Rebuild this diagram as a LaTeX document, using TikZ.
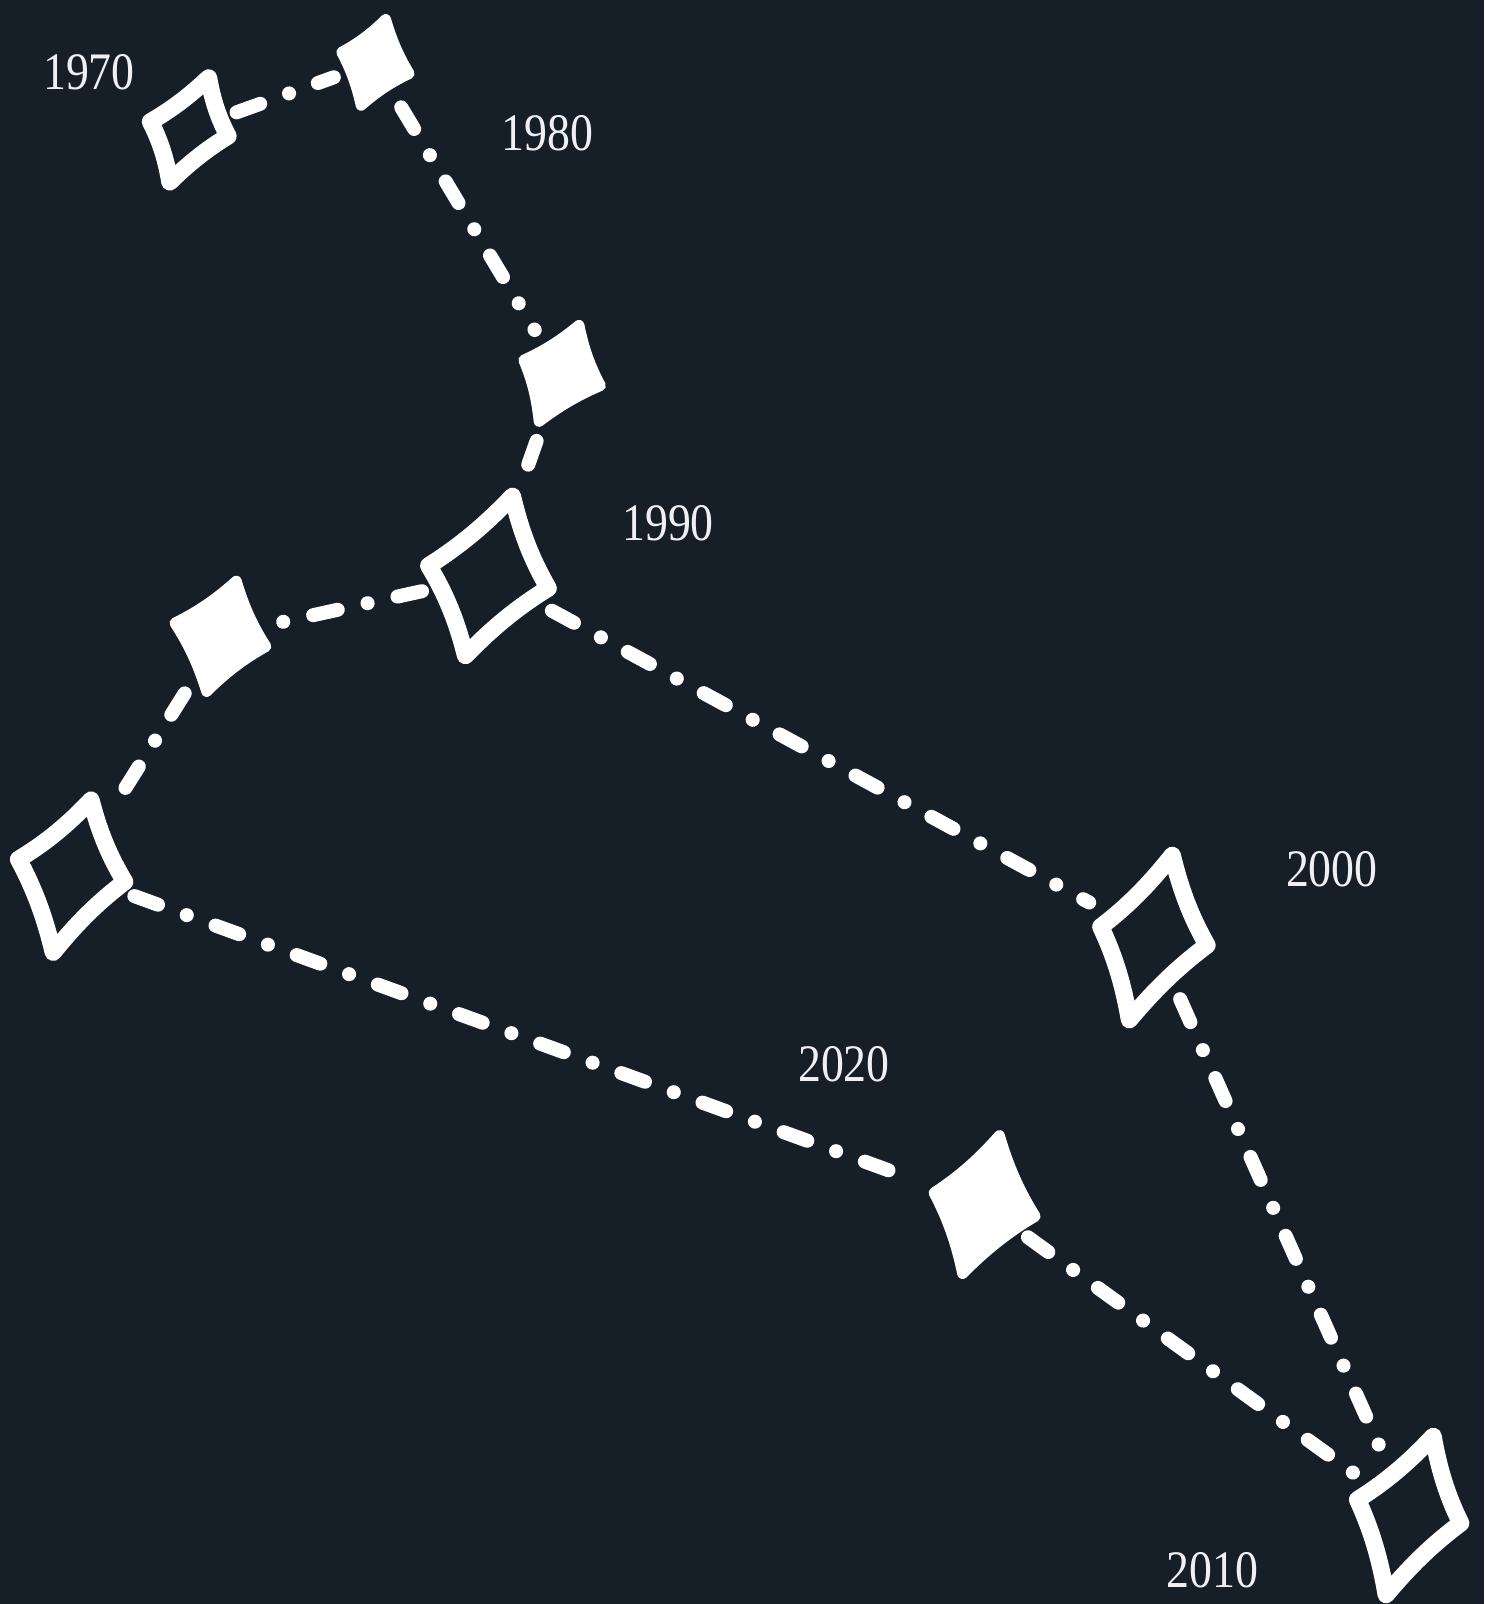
\documentclass[tikz,border=0pt]{standalone}
\usepackage{fontspec}
\setmainfont{Liberation Serif}
\usetikzlibrary{calc}
\definecolor{bg}{RGB}{22,31,40}
\definecolor{ink}{RGB}{255,255,255}
\definecolor{txt}{RGB}{240,240,244}
\newcommand\spark[6]{%
  \coordinate (#1-t) at (#2);
  \coordinate (#1-r) at (#3);
  \coordinate (#1-b) at (#4);
  \coordinate (#1-l) at (#5);
  \coordinate (#1) at ($0.25*(#1-t)+0.25*(#1-r)+0.25*(#1-b)+0.25*(#1-l)$);
  \path[#6] (#1-t)
    .. controls ($0.6*(#1-t)+0.3*(#1-r)+0.1*(#1)$) and ($0.3*(#1-t)+0.6*(#1-r)+0.1*(#1)$) .. (#1-r)
    .. controls ($0.6*(#1-r)+0.3*(#1-b)+0.1*(#1)$) and ($0.3*(#1-r)+0.6*(#1-b)+0.1*(#1)$) .. (#1-b)
    .. controls ($0.6*(#1-b)+0.3*(#1-l)+0.1*(#1)$) and ($0.3*(#1-b)+0.6*(#1-l)+0.1*(#1)$) .. (#1-l)
    .. controls ($0.6*(#1-l)+0.3*(#1-t)+0.1*(#1)$) and ($0.3*(#1-l)+0.6*(#1-t)+0.1*(#1)$) .. (#1-t) -- cycle;
}
\tikzset{
  outl/.style={draw=ink, line width=9.5pt, line join=round},
  solidsp/.style={fill=ink, draw=ink, line width=6pt, line join=round},
  link/.style={draw=ink, line width=7.8pt, line cap=round,
    dash pattern=on 14pt off 17pt on 0.05pt off 17pt},
  lbl/.style={text=txt, inner sep=0pt, font=\fontsize{25.5}{30}\selectfont}
}
\begin{document}
\begin{tikzpicture}[x=0.02cm,y=-0.02cm]
\useasboundingbox[fill=bg] (0,0) rectangle (1451,1568);
% sparkles
\spark{d1}{204,76}{223,133}{166,178}{147,119}{outl}
\spark{d2}{377,19}{400,72}{353,103}{334,51}{solidsp}
\spark{d3}{566,318}{587,377}{527,412}{512,352}{solidsp}
\spark{d4}{501,485}{536,575}{455,641}{419,553}{outl}
\spark{d5}{231,568}{260,632}{202,676}{171,609}{solidsp}
\spark{d6}{89,782}{122,862}{52,931}{18,840}{outl}
\spark{d7}{1146,836}{1180,924}{1104,997}{1076,906}{outl}
\spark{d8}{1401,1404}{1428,1489}{1355,1559}{1327,1466}{outl}
\spark{d9}{977,1110}{1012,1189}{941,1245}{913,1166}{solidsp}
% connectors
\draw[link, shorten <=28pt, shorten >=24pt] (d1) -- (d2);
\draw[link, shorten <=29pt, shorten >=28pt] (d2) -- (d3);
\draw[link, shorten <=40pt, shorten >=63pt] (d3) -- (d4);
\draw[link, shorten <=38pt, shorten >=30pt] (d4) -- (d5);
\draw[link, shorten <=38pt, shorten >=42pt] (d5) -- (d6);
\draw[link, shorten <=37pt, shorten >=39pt] (d6) -- (d9);
\draw[link, shorten <=31pt, shorten >=38pt] (d9) -- (d8);
\draw[link, shorten <=38pt, shorten >=35pt] (d7) -- (d8);
\draw[link, shorten <=40pt, shorten >=40pt] (d4) -- (d7);
% labels
\node[lbl] (l1970) at (87,71) {\scalebox{1}[1.15]{1970}};
\node[lbl] (l1980) at (535,130) {\scalebox{1}[1.15]{1980}};
\node[lbl] (l1990) at (653,511) {\scalebox{1}[1.15]{1990}};
\node[lbl] (l2000) at (1302,850) {\scalebox{1}[1.15]{2000}};
\node[lbl] (l2010) at (1185,1535) {\scalebox{1}[1.15]{2010}};
\node[lbl] (l2020) at (825,1040) {\scalebox{1}[1.15]{2020}};
\end{tikzpicture}
\end{document}
